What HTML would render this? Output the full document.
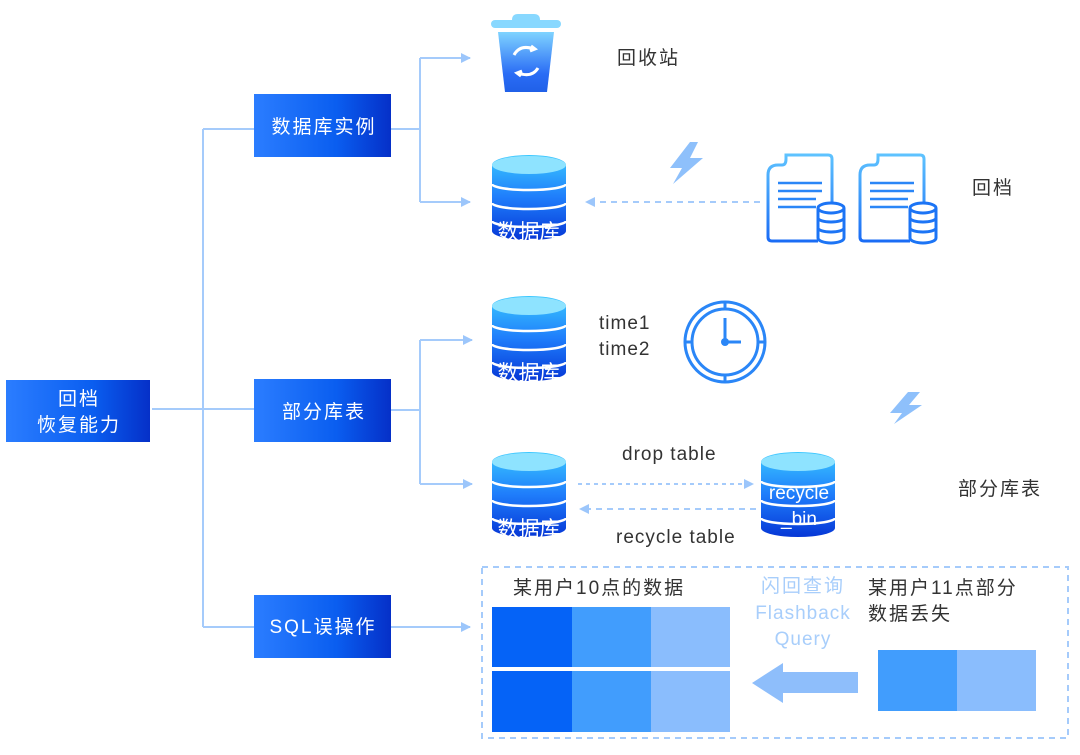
<!DOCTYPE html>
<html><head><meta charset="utf-8"><style>
body{margin:0;background:#fff;}
svg text{font-family:"Liberation Sans","Noto Sans CJK SC",sans-serif;}
.cn{font-size:19px;letter-spacing:2px;}
.en{font-size:19px;letter-spacing:1px;}
</style></head><body>
<svg width="1080" height="750" viewBox="0 0 1080 750" xmlns="http://www.w3.org/2000/svg">
<defs>
<linearGradient id="bx" x1="0" x2="1" y1="0" y2="0"><stop offset="0" stop-color="#2b7dff"/><stop offset="0.6" stop-color="#0a5ef0"/><stop offset="1" stop-color="#0530c8"/></linearGradient>
<linearGradient id="db" x1="0" x2="0" y1="0" y2="1"><stop offset="0" stop-color="#3ac8ff"/><stop offset="0.5" stop-color="#1f7dfb"/><stop offset="1" stop-color="#0637d6"/></linearGradient>
<linearGradient id="bin" x1="0" x2="0" y1="0" y2="1"><stop offset="0" stop-color="#7fd3ff"/><stop offset="0.7" stop-color="#2a6cf5"/><stop offset="1" stop-color="#2060e8"/></linearGradient>
<linearGradient id="doc" x1="0" x2="0" y1="0" y2="1"><stop offset="0" stop-color="#5ec3ff"/><stop offset="1" stop-color="#1a6cf5"/></linearGradient>
<g id="cyl">
<path d="M0 10 A37 10 0 0 1 74 10 L74 76 A37 9 0 0 1 0 76 Z" fill="url(#db)"/>
<ellipse cx="37" cy="10" rx="37" ry="9" fill="#8ee3ff"/>
<path d="M0 29 A37 6 0 0 0 74 29 M0 48 A37 6 0 0 0 74 48 M0 66 A37 6 0 0 0 74 66" stroke="#fff" stroke-width="2.5" fill="none"/>
</g>
<g id="docdb">
<path d="M52 88 L6 88 Q2 88 2 84 L2 22 Q2 12 12 12 L16 12 Q20 12 20 6 L20 2 L62 2 Q66 2 66 6 L66 50" fill="none" stroke="url(#doc)" stroke-width="3"/>
<path d="M12 30 H56 M12 38 H56 M12 46 H50 M12 54 H50" stroke="#2a86f7" stroke-width="2.5"/>
<g transform="translate(52,50)"><path d="M0 5 A13 5 0 0 1 26 5 L26 35 A13 5 0 0 1 0 35 Z" fill="#fff" stroke="#1c74f5" stroke-width="3"/>
<path d="M0 5 A13 5 0 0 0 26 5 M0 15 A13 4 0 0 0 26 15 M0 25 A13 4 0 0 0 26 25" fill="none" stroke="#1c74f5" stroke-width="3"/></g>
</g>
<marker id="ar" markerWidth="10" markerHeight="10" refX="9" refY="5" orient="auto" markerUnits="userSpaceOnUse"><path d="M0 0 L10 5 L0 10 Z" fill="#9cc6fb"/></marker>
</defs>

<g stroke="#a5cbfb" stroke-width="2" fill="none">
<path d="M152 409 H254"/>
<path d="M203 129 V627"/>
<path d="M203 129 H254 M203 627 H254"/>
<path d="M391 129 H420 M420 58 V202"/>
<path d="M420 58 H470" marker-end="url(#ar)"/>
<path d="M420 202 H470" marker-end="url(#ar)"/>
<path d="M391 410 H420 M420 340 V484"/>
<path d="M420 340 H472" marker-end="url(#ar)"/>
<path d="M420 484 H472" marker-end="url(#ar)"/>
<path d="M391 627 H470" marker-end="url(#ar)"/>
<path d="M760 202 H586" stroke-dasharray="6 5" marker-end="url(#ar)"/>
<path d="M578 484 H753" stroke-dasharray="4 4" marker-end="url(#ar)"/>
<path d="M756 509 H580" stroke-dasharray="6 5" marker-end="url(#ar)"/>
</g>

<rect x="6" y="380" width="144" height="62" fill="url(#bx)"/>
<text x="79" y="405" fill="#fff" class="cn" text-anchor="middle">回档</text>
<text x="79" y="431" fill="#fff" class="cn" text-anchor="middle">恢复能力</text>
<rect x="254" y="94" width="137" height="63" fill="url(#bx)"/>
<text x="324" y="133" fill="#fff" class="cn" text-anchor="middle">数据库实例</text>
<rect x="254" y="379" width="137" height="63" fill="url(#bx)"/>
<text x="324" y="418" fill="#fff" class="cn" text-anchor="middle">部分库表</text>
<rect x="254" y="595" width="137" height="63" fill="url(#bx)"/>
<text x="323" y="633" fill="#fff" class="cn" text-anchor="middle">SQL误操作</text>

<rect x="491" y="20" width="70" height="8" rx="4" fill="#88d8ff"/>
<path d="M512 20 Q512 14 518 14 H534 Q540 14 540 20 Z" fill="#88d8ff"/>
<path d="M498 32 H554 L547 92 H505 Z" fill="url(#bin)"/>
<path d="M514 55 Q520 44 534 49 M531 46 l4 3 -5 2 M538 68 Q532 78 518 73 M521 76 l-4 -3 5 -2" stroke="#fff" stroke-width="3" fill="none"/>
<text x="617" y="64" fill="#333" class="cn">回收站</text>

<use href="#cyl" x="492" y="155"/>
<text x="529" y="239" fill="#fff" font-size="21" text-anchor="middle">数据库</text>
<use href="#cyl" x="492" y="296"/>
<text x="529" y="380" fill="#fff" font-size="21" text-anchor="middle">数据库</text>
<use href="#cyl" x="492" y="452"/>
<text x="529" y="536" fill="#fff" font-size="21" text-anchor="middle">数据库</text>
<use href="#cyl" x="761" y="452"/>
<text x="799" y="499" fill="#fff" font-size="19" text-anchor="middle">recycle</text>
<text x="799" y="525" fill="#fff" font-size="19" text-anchor="middle">_bin</text>

<path d="M690 142 L670 168 H682 L673 184 L703 158 H690 L698 142 Z" fill="#8ec0fb"/>
<path d="M908 392 L890 413 H902 L894 424 L922 405 H909 L920 392 Z" fill="#8ec0fb"/>

<use href="#docdb" x="766" y="153"/>
<use href="#docdb" x="858" y="153"/>
<text x="972" y="194" fill="#333" class="cn">回档</text>

<g fill="none" stroke="#2a86f7">
<circle cx="725" cy="342" r="40" stroke-width="3"/>
<circle cx="725" cy="342" r="33" stroke-width="3"/>
<path d="M725 302 V308 M725 376 V382 M685 342 H691 M759 342 H765" stroke-width="3"/>
<path d="M725 318 V342 H741" stroke-width="3"/>
</g>
<circle cx="725" cy="342" r="4" fill="#2a86f7"/>
<text x="599" y="329" fill="#333" class="en">time1</text>
<text x="599" y="355" fill="#333" class="en">time2</text>
<text x="622" y="460" fill="#333" class="en">drop table</text>
<text x="616" y="543" fill="#333" class="en">recycle table</text>
<text x="958" y="495" fill="#333" class="cn">部分库表</text>

<rect x="482" y="567" width="586" height="171" fill="none" stroke="#a5cbfb" stroke-width="2" stroke-dasharray="6 5"/>
<text x="513" y="594" fill="#333" class="cn">某用户10点的数据</text>
<rect x="492" y="607" width="80" height="60" fill="#0563f7"/>
<rect x="572" y="607" width="79" height="60" fill="#419dfd"/>
<rect x="651" y="607" width="79" height="60" fill="#8abdfd"/>
<rect x="492" y="671" width="80" height="61" fill="#0563f7"/>
<rect x="572" y="671" width="79" height="61" fill="#419dfd"/>
<rect x="651" y="671" width="79" height="61" fill="#8abdfd"/>
<text x="803" y="592" fill="#a8cefb" class="cn" text-anchor="middle">闪回查询</text>
<text x="803" y="619" fill="#a8cefb" class="en" text-anchor="middle">Flashback</text>
<text x="803" y="645" fill="#a8cefb" class="en" text-anchor="middle">Query</text>
<text x="868" y="594" fill="#333" class="cn">某用户11点部分</text>
<text x="868" y="620" fill="#333" class="cn">数据丢失</text>
<path d="M858 672 H783 V663 L752 683 L783 703 V693 H858 Z" fill="#8ebefb"/>
<rect x="878" y="650" width="79" height="61" fill="#419dfd"/>
<rect x="957" y="650" width="79" height="61" fill="#8abdfd"/>
</svg>
</body></html>
